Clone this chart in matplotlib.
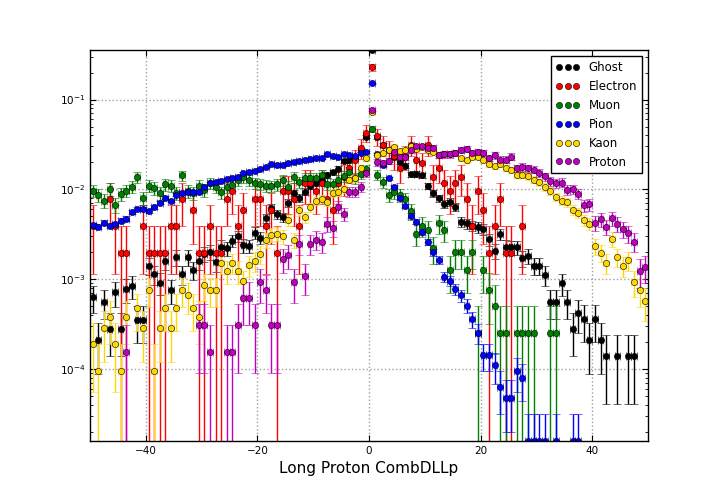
import numpy as np
import matplotlib

matplotlib.use("Agg")
import matplotlib.pyplot as plt  # noqa: E402
from matplotlib.lines import Line2D  # noqa: E402

# bin centres of the CombDLLp histogram (1 unit bins from -50 to 50)
bin_centers = np.arange(-49.5, 50.0, 1.0)

# fraction of tracks per bin (0 = empty bin)
ghost = [
    0.000625, 0.000208, 0.000557, 0.000276, 0.00071, 0.000276, 0.000767, 0.000841, 0.000351, 0.000351,
    0.00141, 0.00113, 0.00091, 0.0016, 0.000753, 0.00175, 0.00113, 0.00175, 0.00126, 0.0016,
    0.0019, 0.00202, 0.00154, 0.0023, 0.0022, 0.00268, 0.00302, 0.00238, 0.00234, 0.00329,
    0.00289, 0.00477, 0.00616, 0.00528, 0.00489, 0.00702, 0.00914, 0.00803, 0.00944, 0.01093,
    0.01172, 0.01276, 0.01452, 0.01549, 0.01694, 0.0208, 0.0211, 0.0231, 0.0276, 0.0386,
    0.353, 0.0383, 0.0314, 0.0276, 0.0231, 0.0203, 0.0183, 0.0147, 0.0149, 0.0143,
    0.0109, 0.00901, 0.00793, 0.00689, 0.00731, 0.00633, 0.00436, 0.00419, 0.00394, 0.00379,
    0.00359, 0.00278, 0.00207, 0.00318, 0.0023, 0.00226, 0.00226, 0.0017, 0.00182, 0.00141,
    0.00141, 0.00111, 0.000553, 0.000553, 0.000895, 0.000553, 0.000276, 0.00042, 0.000355, 0.000208,
    0.000355, 0.000208, 0.000139, 0, 0.000139, 0, 0.000139, 0.000139, 0, 0,
]
electron = [
    0.00388, 0, 0, 0.00776, 0.00388, 0.00194, 0.00194, 0, 0, 0.00388,
    0.00194, 0.00194, 0.00194, 0.00194, 0.00388, 0.00388, 0.00776, 0, 0.00582, 0.00194,
    0.00194, 0.00388, 0.00194, 0.00194, 0.00776, 0.0097, 0.00388, 0.00582, 0, 0.00776,
    0.00776, 0.00388, 0.00582, 0.00194, 0.0097, 0.0097, 0.00776, 0.00388, 0.01164, 0.01164,
    0.0097, 0.01164, 0.00776, 0.00582, 0.01164, 0.01358, 0.01746, 0.02134, 0.0291, 0.04268,
    0.2289, 0.0388, 0.03104, 0.02716, 0.02328, 0.01746, 0.02328, 0.03104, 0.02134, 0.0194,
    0.03104, 0.01358, 0.01746, 0.01164, 0.0097, 0.01164, 0.01358, 0.00776, 0.00388, 0.0097,
    0.00582, 0.00194, 0.00388, 0.00776, 0.00194, 0.00194, 0, 0.00388, 0, 0,
    0, 0, 0, 0, 0, 0, 0, 0, 0, 0,
    0, 0, 0, 0, 0, 0, 0, 0, 0, 0,
]
muon = [
    0.0097, 0.00869, 0.0075, 0.01005, 0.00676, 0.00884, 0.0097, 0.01074, 0.01368, 0.00803,
    0.01102, 0.01031, 0.0092, 0.01132, 0.01102, 0.00908, 0.01426, 0.00962, 0.00908, 0.01102,
    0.00986, 0.01172, 0.01074, 0.00923, 0.01074, 0.01113, 0.01268, 0.01368, 0.01256, 0.01172,
    0.01145, 0.01102, 0.01088, 0.01132, 0.01278, 0.01074, 0.01368, 0.01201, 0.01328, 0.01328,
    0.01328, 0.01432, 0.01151, 0.01137, 0.01262, 0.01403, 0.0157, 0.01334, 0.01489, 0.01683,
    0.047, 0.0145, 0.012, 0.0087, 0.0094, 0.0087, 0.0078, 0.0057, 0.0032, 0.0039,
    0.0035, 0.0022, 0.0042, 0.0035, 0.00125, 0.00199, 0.00199, 0.00125, 0.00199, 0.000249,
    0.00125, 0.000747, 0.000498, 0.000249, 0.000249, 0, 0.000249, 0.000249, 0.000249, 0.000249,
    0, 0, 0.000249, 0.000249, 0, 0, 0, 0, 0, 0,
    0, 0, 0, 0, 0, 0, 0, 0, 0, 0,
]
pion = [
    0.00401, 0.00384, 0.00426, 0.00394, 0.00408, 0.00448, 0.00472, 0.00565, 0.0061, 0.0061,
    0.00571, 0.00643, 0.00712, 0.00809, 0.0075, 0.00869, 0.00908, 0.00938, 0.0094, 0.0094,
    0.01074, 0.01172, 0.01202, 0.01244, 0.013, 0.01343, 0.01368, 0.01517, 0.01556, 0.01597,
    0.01694, 0.0177, 0.01892, 0.01845, 0.0189, 0.01977, 0.02028, 0.02065, 0.02136, 0.0215,
    0.02249, 0.0221, 0.02449, 0.02367, 0.02265, 0.0245, 0.0239, 0.0237, 0.0256, 0.026,
    0.152, 0.0247, 0.0188, 0.0132, 0.0107, 0.00803, 0.00659, 0.0051, 0.00436, 0.00335,
    0.00261, 0.00199, 0.00163, 0.00106, 0.000957, 0.000767, 0.000657, 0.000504, 0.00036, 0.000251,
    0.000141, 0.000141, 0.00011, 6.28e-5, 4.71e-5, 4.71e-5, 9.42e-5, 7.85e-5, 1.57e-5, 1.57e-5,
    1.57e-5, 1.57e-5, 0, 1.57e-5, 0, 0, 1.57e-5, 1.57e-5, 0, 0,
    0, 0, 0, 0, 0, 0, 0, 0, 0, 0,
]
kaon = [
    1.89e-4, 9.4e-5, 2.83e-4, 3.78e-4, 1.89e-4, 9.4e-5, 3.78e-4, 0, 4.72e-4, 2.83e-4,
    7.55e-4, 9.4e-5, 2.83e-4, 4.72e-4, 2.83e-4, 4.72e-4, 7.55e-4, 6.61e-4, 4.72e-4, 3.78e-4,
    8.5e-4, 7.55e-4, 7.55e-4, 1.51e-3, 1.23e-3, 1.51e-3, 1.23e-3, 9.4e-4, 1.42e-3, 1.6e-3,
    1.89e-3, 2.74e-3, 3.12e-3, 3.21e-3, 3.02e-3, 4.53e-3, 2.74e-3, 5.85e-3, 4.91e-3, 6.32e-3,
    7.46e-3, 7.84e-3, 7.27e-3, 9.16e-3, 9.44e-3, 0.0101, 0.0128, 0.0133, 0.0172, 0.0223,
    0.072, 0.0243, 0.0253, 0.0276, 0.0296, 0.0264, 0.0271, 0.0306, 0.0284, 0.0296,
    0.0276, 0.0262, 0.0243, 0.0249, 0.0249, 0.0256, 0.0223, 0.021, 0.0231, 0.0232,
    0.021, 0.0193, 0.018, 0.0193, 0.0173, 0.0166, 0.0145, 0.0145, 0.0139, 0.0128,
    0.012, 0.0107, 0.00957, 0.00824, 0.00748, 0.00725, 0.0059, 0.00551, 0.00456, 0.00412,
    0.00234, 0.00197, 0.00152, 0.0028, 0.00177, 0.00141, 0.00162, 0.000925, 0.000748, 0.00057,
]
proton = [
    0, 0, 0, 0, 0, 0, 1.53e-4, 0, 0, 0,
    0, 0, 0, 0, 0, 0, 0, 0, 0, 3.06e-4,
    3.06e-4, 1.53e-4, 0, 0, 1.53e-4, 1.53e-4, 3.06e-4, 6.12e-4, 6.12e-4, 3.06e-4,
    9.18e-4, 7.65e-4, 3.06e-4, 3.06e-4, 1.68e-3, 1.84e-3, 9.18e-4, 2.45e-3, 1.07e-3, 2.45e-3,
    2.75e-3, 2.6e-3, 4.13e-3, 3.67e-3, 6.43e-3, 5.36e-3, 9.45e-3, 9.45e-3, 0.0107, 0.0152,
    0.0773, 0.0199, 0.0196, 0.0208, 0.0262, 0.0228, 0.0229, 0.0276, 0.0301, 0.0301,
    0.0291, 0.0289, 0.0243, 0.0245, 0.0245, 0.0252, 0.0276, 0.0281, 0.0256, 0.0258,
    0.0256, 0.0223, 0.0239, 0.0214, 0.0214, 0.0232, 0.0171, 0.0178, 0.0171, 0.0166,
    0.0152, 0.0139, 0.0124, 0.0118, 0.0119, 0.00995, 0.01, 0.00897, 0.00662, 0.0068,
    0.00419, 0.00464, 0.00384, 0.00477, 0.00412, 0.00359, 0.00324, 0.00261, 0.00124, 0.00137,
]

# weight of a single track in each sample (lowest level seen in the picture)
one_entry = {
    "Ghost": 6.9e-5,
    "Electron": 1.94e-3,
    "Muon": 2.49e-4,
    "Pion": 1.57e-5,
    "Kaon": 9.44e-5,
    "Proton": 1.53e-4,
}

labels = ["Ghost", "Electron", "Muon", "Pion", "Kaon", "Proton"]
values = [ghost, electron, muon, pion, kaon, proton]
colors = ["k", "r", "#008000", "b", "#FFD700", "#BF00BF"]

fig, ax = plt.subplots(figsize=(7.2, 5.04), dpi=100)
fig.subplots_adjust(left=0.125, right=0.9, bottom=0.125, top=0.9)
ax.set_yscale("log")

all_vals = []
for name, vals, col in zip(labels, values, colors):
    v = np.asarray(vals, dtype=float)
    keep = v > 0
    # poisson error on the bin content
    err = np.sqrt(v[keep] * one_entry[name])
    ax.errorbar(
        bin_centers[keep], v[keep], xerr=0.5, yerr=err,
        fmt="o", color=col, ecolor=col, mec="k", mew=0.4, ms=4.5,
        capsize=3, capthick=1, elinewidth=1,
    )
    all_vals.extend(v[keep])

ax.set_xlim(-50, 50)
ax.set_ylim(min(all_vals), max(all_vals))
ax.set_xticks([-40, -20, 0, 20, 40])
ax.grid(True, which="major", linestyle=":", color="#a0a0a0", linewidth=1)
ax.tick_params(which="both", direction="in", top=True, right=True, labelsize=7.5)
ax.tick_params(which="major", length=4)
ax.tick_params(which="minor", length=2)
for spine in ax.spines.values():
    spine.set_linewidth(1)

ax.set_xlabel("Long Proton CombDLLp", fontsize=11)

handles = [
    Line2D([], [], ls="none", marker="o", color=col, mec="k", mew=0.4, ms=4.5)
    for col in colors
]
leg = ax.legend(
    handles, labels, loc="upper right", numpoints=3, fontsize=8.5,
    fancybox=False, edgecolor="k", framealpha=1, borderaxespad=0.5,
)
leg.get_frame().set_linewidth(1)

fig.savefig("out.png", dpi=100)
plt.close(fig)
